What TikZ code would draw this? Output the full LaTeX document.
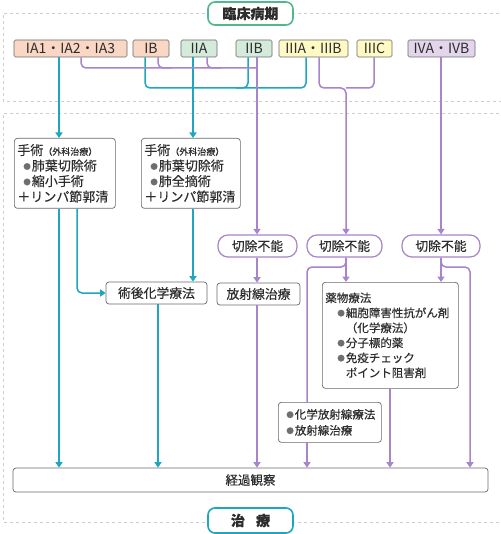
\documentclass[tikz,border=0pt]{standalone}
\usepackage{fontspec}
\setmainfont{Noto Sans CJK JP}[FakeBold=0.35]
\newfontfamily\latinstage{Noto Sans CJK JP}
\usetikzlibrary{arrows.meta}
\definecolor{tealc}{RGB}{30,166,192}
\definecolor{purpc}{RGB}{168,132,202}
\definecolor{boxgray}{RGB}{105,105,105}
\definecolor{textc}{RGB}{45,45,45}
\definecolor{bulgray}{RGB}{110,110,110}
\definecolor{panelc}{RGB}{205,205,205}
\definecolor{fillA}{RGB}{250,214,196}
\definecolor{fillB}{RGB}{212,234,218}
\definecolor{fillC}{RGB}{255,250,196}
\definecolor{fillD}{RGB}{227,214,236}
\definecolor{greenc}{RGB}{80,185,140}
\newcommand{\bul}{\makebox[8.5pt][l]{\raisebox{1.2pt}{\color{bulgray}\fontsize{7.5}{7.5}\selectfont ●}}}
\begin{document}
\begin{tikzpicture}[x=1pt,y=-1pt,
  panel/.style={draw=panelc,dashed,line width=0.7pt},
  stage/.style={draw=boxgray,line width=0.6pt,rounded corners=1.5pt,minimum height=17pt,inner sep=0pt,text=textc,font=\latinstage\fontsize{14}{14}\selectfont},
  title/.style={draw=#1,line width=1.6pt,rounded corners=7pt,fill=white,minimum width=85pt,inner sep=0pt,text=textc,font=\bfseries\fontsize{14}{14}\selectfont},
  box/.style={draw=boxgray,line width=0.7pt,rounded corners=3pt,fill=white,text=textc,inner sep=0pt,font=\fontsize{12.8}{12.8}\selectfont},
  pill/.style={draw=purpc,line width=1.2pt,rounded corners=10pt,fill=white,text=textc,inner sep=0pt,minimum height=22pt,font=\fontsize{12.8}{12.8}\selectfont},
  tl/.style={draw=tealc,line width=1.5pt,rounded corners=5pt},
  pl/.style={draw=purpc,line width=1.5pt,rounded corners=5pt},
  arr/.style={-{Triangle[width=7pt,length=5.5pt]}}]
\useasboundingbox (0,0) rectangle (500,534);
\fill[white] (0,0) rectangle (500,534);
% panels
\draw[panel] (505,13) -- (3,13) -- (3,101) -- (505,101);
\draw[panel] (505,113) -- (3,113) -- (3,522) -- (505,522);
% titles
\node[title=greenc,minimum height=23pt] (t1) at (250.5,13.5) {臨床病期};
\node[title=tealc,minimum height=25pt] (t2) at (250.5,520.5) {治\hspace{0.8em}療};
% stages
\node[stage,fill=fillA,minimum width=113pt] (ia) at (70.5,48.5) {IA1・IA2・IA3};
\node[stage,fill=fillA,minimum width=36pt] (ib) at (151,48.5) {IB};
\node[stage,fill=fillB,minimum width=36pt] (iia) at (199,48.5) {IIA};
\node[stage,fill=fillB,minimum width=36pt] (iib) at (254,48.5) {IIB};
\node[stage,fill=fillC,minimum width=69pt] (iiia) at (313.5,48.5) {IIIA・IIIB};
\node[stage,fill=fillC,minimum width=35pt] (iiic) at (374.5,48.5) {IIIC};
\node[stage,fill=fillD,minimum width=67pt] (iva) at (441.5,48.5) {IVA・IVB};
% treatment boxes
\node[box,anchor=north west,minimum width=101pt,minimum height=70pt,text width=95pt,align=left,font=\fontsize{13}{15.5}\selectfont] (s1) at (14,138)
  {手術{\fontsize{9}{9}\selectfont（外科治療）}\\\hspace*{6pt}\bul 肺葉切除術\\\hspace*{6pt}\bul 縮小手術\\＋リンパ節郭清};
\node[box,anchor=north west,minimum width=99pt,minimum height=70pt,text width=93pt,align=left,font=\fontsize{13}{15.5}\selectfont] (s2) at (141,138)
  {手術{\fontsize{9}{9}\selectfont（外科治療）}\\\hspace*{6pt}\bul 肺葉切除術\\\hspace*{6pt}\bul 肺全摘術\\＋リンパ節郭清};
\node[box,minimum width=101pt,minimum height=22pt] (pc) at (156.5,293) {術後化学療法};
\node[pill,minimum width=79pt] (u1) at (257.5,246) {切除不能};
\node[pill,minimum width=75pt] (u2) at (344.5,246) {切除不能};
\node[pill,minimum width=78pt] (u3) at (441,246) {切除不能};
\node[box,minimum width=83pt,minimum height=22pt] (rt) at (258.5,294) {放射線治療};
\node[box,anchor=north west,minimum width=136pt,minimum height=106pt,text width=130pt,align=left,font=\fontsize{11.5}{15}\selectfont] (dr) at (322,282)
  {薬物療法\\\hspace*{12pt}\bul 細胞障害性抗がん剤\\\hspace*{20.5pt}（化学療法）\\\hspace*{12pt}\bul 分子標的薬\\\hspace*{12pt}\bul 免疫チェック\\\hspace*{20.5pt}ポイント阻害剤};
\node[box,anchor=north west,minimum width=103pt,minimum height=40pt,text width=97pt,align=left,font=\fontsize{11.5}{16}\selectfont] (cr) at (278,402)
  {\hspace*{5pt}\bul 化学放射線療法\\\hspace*{5pt}\bul 放射線治療};
\node[box,minimum width=475pt,minimum height=24pt,font=\fontsize{12.5}{12.5}\selectfont] (ko) at (250.5,480) {経過観察};
% helper coordinates
\coordinate (cA) at (59,0);
\coordinate (cAp) at (81,0);
\coordinate (cB) at (145,0);
\coordinate (cBp) at (158,0);
\coordinate (cC) at (193,0);
\coordinate (cCp) at (207,0);
\coordinate (cD) at (248,0);
\coordinate (cDp) at (257,0);
\coordinate (cEp) at (319,0);
\coordinate (cF) at (374,0);
\coordinate (cH) at (441,0);
\coordinate (cS) at (77,0);
\coordinate (cP) at (158,0);
\coordinate (cDR) at (390,0);
\coordinate (jT) at (306,88);
\coordinate (jT2) at (236,88);
\coordinate (jP) at (257,68);
\coordinate (jPb) at (172,68);
\coordinate (jPc) at (221,68);
\coordinate (jQ) at (346,88);
\coordinate (jR1) at (346,267);
\coordinate (jR2) at (307,267);
\coordinate (jS1) at (441,267);
\coordinate (jS2) at (470,267);
% teal connectors
\draw[tl,arr] (ia.south -| cA) -- (s1.north -| cA);
\draw[tl,arr] (iia.south -| cC) -- (s2.north -| cC);
\draw[tl] (ib.south -| cB) |- (jT) -- (iiia.south -| jT);
\draw[tl] (iib.south -| cD) |- (jT2);
\draw[tl,arr] (s1.south -| cA) -- (ko.north -| cA);
\draw[tl,arr] (s1.south -| cS) |- (pc.west);
\draw[tl,arr] (s2.south -| cC) -- (pc.north -| cC);
\draw[tl,arr] (pc.south -| cP) -- (ko.north -| cP);
% purple connectors
\draw[pl] (ia.south -| cAp) |- (jP);
\draw[pl] (ib.south -| cBp) |- (jPb);
\draw[pl] (iia.south -| cCp) |- (jPc);
\draw[pl,arr] (iib.south -| cDp) -- (u1.north -| cDp);
\draw[pl,arr] (iiia.south -| cEp) |- (jQ) -- (u2.north -| jQ);
\draw[pl] (iiic.south -| cF) |- (jQ);
\draw[pl,arr] (iva.south -| cH) -- (u3.north -| cH);
\draw[pl,arr] (u1.south -| cDp) -- (rt.north -| cDp);
\draw[pl,arr] (rt.south -| cDp) -- (ko.north -| cDp);
\draw[pl,arr] (u2.south -| jQ) -- (dr.north -| jQ);
\draw[pl] (u2.south -| jQ) -- (jR1) -- (jR2) -- (cr.north -| jR2);
\draw[pl,arr] (cr.south -| jR2) -- (ko.north -| jR2);
\draw[pl,arr] (u3.south -| cH) -- (dr.north -| cH);
\draw[pl,arr] (u3.south -| cH) -- (jS1) -- (jS2) -- (ko.north -| jS2);
\draw[pl,arr] (dr.south -| cDR) -- (ko.north -| cDR);
\end{tikzpicture}
\end{document}
